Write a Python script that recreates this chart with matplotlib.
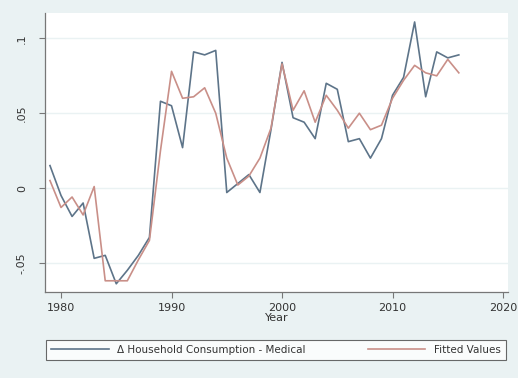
import matplotlib.pyplot as plt

# Data
years = list(range(1979, 2017))
actual = [0.015, -0.005, -0.019, -0.010, -0.047, -0.045, -0.064, -0.055, -0.045, -0.033,
          0.058, 0.055, 0.027, 0.091, 0.089, 0.092, -0.003, 0.003, 0.009, -0.003,
          0.039, 0.084, 0.047, 0.044, 0.033, 0.070, 0.066, 0.031, 0.033, 0.020,
          0.033, 0.062, 0.074, 0.111, 0.061, 0.091, 0.087, 0.089]
fitted = [0.005, -0.013, -0.006, -0.018, 0.001, -0.062, -0.062, -0.062, -0.048, -0.035,
          0.025, 0.078, 0.060, 0.061, 0.067, 0.050, 0.020, 0.002, 0.008, 0.020,
          0.040, 0.083, 0.052, 0.065, 0.044, 0.062, 0.052, 0.040, 0.050, 0.039,
          0.042, 0.060, 0.072, 0.082, 0.077, 0.075, 0.086, 0.077]
xticks = [1980, 1990, 2000, 2010, 2020]
yticks = [-0.05, 0, 0.05, 0.1]
ytick_labels = ['-.05', '0', '.05', '.1']

bg = '#eaf2f3'
fig = plt.figure(figsize=(5.18, 3.78), dpi=100, facecolor=bg)
ax = fig.add_axes([45 / 518, 1 - 292 / 378, 463 / 518, 279 / 378])
ax.set_facecolor('white')

ax.plot(years, actual, color='#5d7489', linewidth=1.2, label='\u0394 Household Consumption - Medical')
ax.plot(years, fitted, color='#c98f88', linewidth=1.2, label='Fitted Values')

ax.set_xlim(1978.55, 2020.45)
ax.set_ylim(-0.0695, 0.117)
ax.set_xticks(xticks)
ax.set_xticklabels([str(t) for t in xticks], fontsize=8, color='#333333')
ax.set_yticks(yticks)
ax.set_yticklabels(ytick_labels, fontsize=8, color='#333333', rotation=90, va='center')
ax.grid(axis='y', color='#eaf2f3', linewidth=1)
ax.set_axisbelow(True)
ax.tick_params(axis='x', direction='out', length=4, color='#777777', pad=4)
ax.tick_params(axis='y', direction='out', length=4, color='#777777', pad=9)

for side in ['top', 'right']:
    ax.spines[side].set_visible(False)
for side in ['left', 'bottom']:
    ax.spines[side].set_color('#777777')
    ax.spines[side].set_linewidth(0.9)

ax.set_xlabel('Year', fontsize=8, color='#333333', labelpad=0)

leg = fig.legend(loc='center', bbox_to_anchor=(276 / 518, 1 - 350 / 378), ncol=2,
                 fontsize=7.5, frameon=True, fancybox=False, columnspacing=6,
                 handlelength=5.5, borderpad=0.5, labelcolor='#333333')
leg.get_frame().set_edgecolor('#444444')
leg.get_frame().set_linewidth(0.8)
leg.get_frame().set_facecolor('white')

fig.savefig('out.png', dpi=100, facecolor=bg)
